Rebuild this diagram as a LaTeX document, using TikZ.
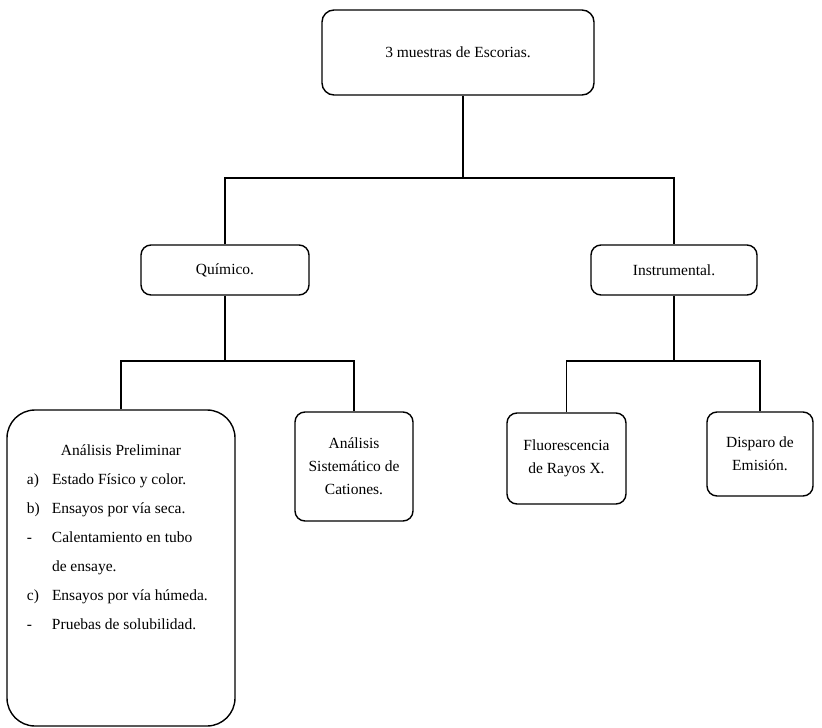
\documentclass[tikz,border=0pt]{standalone}
\usepackage{fontspec}
\setmainfont{Liberation Serif}
\usepackage{tikz}
\usetikzlibrary{positioning}

\begin{document}
\begin{tikzpicture}[x=1pt, y=-1pt,
    box/.style={rectangle, draw, line width=1.4pt, rounded corners=10pt, align=center, font=\fontsize{15.5}{23}\selectfont},
    link/.style={line width=1.4pt}]
    \useasboundingbox (0,0) rectangle (822,728);

    \node (esc) [box, rounded corners=12pt, minimum width=272pt, minimum height=85pt] at (458,52.5) {3 muestras de Escorias.};
    \node (quim) [box, minimum width=168pt, minimum height=50pt] at (225,270) {Químico.};
    \node (instr) [box, minimum width=166pt, minimum height=50pt] at (674,270) {Instrumental.};
    \node (prel) [box, rounded corners=28pt, inner xsep=20pt, inner ysep=0pt] at (121,568) {\parbox[c][316pt][t]{188pt}{\fontsize{15.5}{29}\selectfont
        \rule{0pt}{45pt}\makebox[188pt]{Análisis Preliminar}\\
        \makebox[25pt][l]{a)}Estado Físico y color.\\
        \makebox[25pt][l]{b)}Ensayos por vía seca.\\
        \makebox[25pt][l]{-}Calentamiento en tubo\\
        \hspace*{25pt}de ensaye.\\
        \makebox[25pt][l]{c)}Ensayos por vía húmeda.\\
        \makebox[25pt][l]{-}Pruebas de solubilidad.}};
    \node (sist) [box, minimum width=118pt, minimum height=109pt] at (354,466.5) {Análisis\\Sistemático de\\Cationes.};
    \node (fluor) [box, minimum width=119pt, minimum height=91pt] at (566.5,458.5) {Fluorescencia\\de Rayos X.};
    \node (disp) [box, minimum width=106pt, minimum height=84pt] at (760,454) {Disparo de\\Emisión.};

    \coordinate (b0) at (463,178);
    \coordinate (b1) at (225,361);
    \coordinate (b2) at (674,361);

    \draw [link] (esc.south -| b0) -- (b0);
    \draw [link] (quim.north) -- (quim.north |- b0) -- (instr.north |- b0) -- (instr.north);
    \draw [link] (quim.south) -- (b1);
    \draw [link] (prel.north) -- (prel.north |- b1) -- (sist.north |- b1) -- (sist.north);
    \draw [link] (instr.south) -- (b2);
    \draw [link] (fluor.north) -- (fluor.north |- b2) -- (disp.north |- b2) -- (disp.north);
\end{tikzpicture}
\end{document}
